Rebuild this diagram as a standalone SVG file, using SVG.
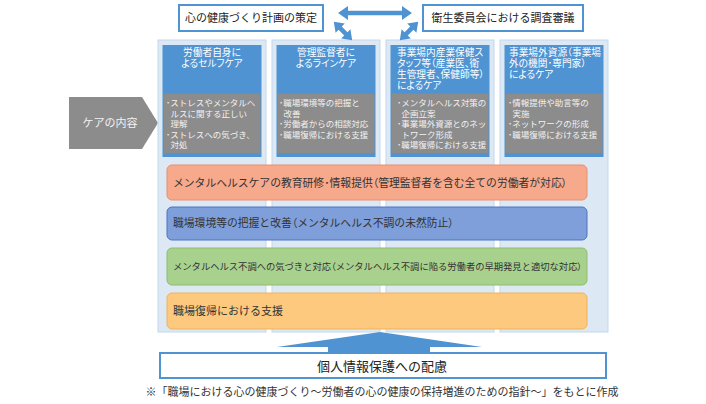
<svg xmlns="http://www.w3.org/2000/svg" width="706" height="404" viewBox="0 0 706 404">
<style>
text{font-family:"Liberation Sans","Noto Sans CJK JP",sans-serif;}
.col{fill:#dce9f5;stroke:#c3d8ec;stroke-width:1}
.hd{fill:#4f93d2}
.gr{fill:#8c8c8c}
.ht{fill:#ffffff;font-size:9.7px;font-feature-settings:"palt"}
.gt{fill:#f2f2f2;font-size:8.5px}
.top{fill:#ffffff;stroke:#4f93d2;stroke-width:2}
.tt{fill:#222222;font-size:11px;text-anchor:middle}
.bt{fill:#333333;font-size:10.8px}
.p{font-feature-settings:"palt"}
.arr{fill:#4f93d2}
</style>
<rect width="706" height="404" fill="#ffffff"/>

<g id="care-label">
<polygon points="69,97 142,97 158,123 142,149 69,149" fill="#8c8c8c"/>
<text x="110" y="127" fill="#f2f2f2" font-size="11" text-anchor="middle">ケアの内容</text>
</g>

<g id="col-self">
<rect class="col" x="158" y="40" width="108" height="292"/>
<rect class="hd" x="162.5" y="45" width="99" height="112"/>
<text class="ht" x="212" y="56.4" text-anchor="middle">労働者自身に</text>
<text class="ht" x="212" y="67.4" text-anchor="middle">よるセルフケア</text>
<rect class="gr" x="163.5" y="93.5" width="97" height="59.5"/>
<text class="gt" x="166" y="106">･ストレスやメンタルヘ</text>
<text class="gt" x="170.5" y="116.5">ルスに関する正しい</text>
<text class="gt" x="170.5" y="127">理解</text>
<text class="gt" x="166" y="137.5">･ストレスへの気づき、</text>
<text class="gt" x="170.5" y="148">対処</text>
</g>

<g id="col-line">
<rect class="col" x="272" y="40" width="108" height="292"/>
<rect class="hd" x="276.5" y="45" width="99" height="112"/>
<text class="ht" x="326" y="56.4" text-anchor="middle">管理監督者に</text>
<text class="ht" x="326" y="67.4" text-anchor="middle">よるラインケア</text>
<rect class="gr" x="277.5" y="93.5" width="97" height="59.5"/>
<text class="gt" x="279" y="106">･職場環境等の把握と</text>
<text class="gt" x="283.5" y="116.5">改善</text>
<text class="gt" x="279" y="127">･労働者からの相談対応</text>
<text class="gt" x="279" y="137.5">･職場復帰における支援</text>
</g>

<g id="col-staff">
<rect class="col" x="386" y="40" width="108" height="292"/>
<rect class="hd" x="390.5" y="45" width="99" height="112"/>
<text class="ht" x="397" y="56.4">事業場内産業保健ス</text>
<text class="ht" x="397" y="67.4">タッフ等（産業医、衛</text>
<text class="ht" x="397" y="78.4">生管理者、保健師等）</text>
<text class="ht" x="397" y="89.4">によるケア</text>
<rect class="gr" x="391.5" y="93.5" width="97" height="59.5"/>
<text class="gt" x="397" y="106">･メンタルヘルス対策の</text>
<text class="gt" x="401.5" y="116.5">企画立案</text>
<text class="gt" x="397" y="127">･事業場外資源とのネッ</text>
<text class="gt" x="401.5" y="137.5">トワーク形成</text>
<text class="gt" x="397" y="148">･職場復帰における支援</text>
</g>

<g id="col-external">
<rect class="col" x="500" y="40" width="108" height="292"/>
<rect class="hd" x="504.5" y="45" width="99" height="112"/>
<text class="ht" x="509" y="56.4">事業場外資源（事業場</text>
<text class="ht" x="509" y="67.4">外の機関･専門家）</text>
<text class="ht" x="509" y="78.4">によるケア</text>
<rect class="gr" x="505.5" y="93.5" width="97" height="59.5"/>
<text class="gt" x="508" y="106">･情報提供や助言等の</text>
<text class="gt" x="512.5" y="116.5">実施</text>
<text class="gt" x="508" y="127">･ネットワークの形成</text>
<text class="gt" x="508" y="137.5">･職場復帰における支援</text>
</g>

<g id="band-education">
<rect x="167" y="165" width="420" height="35" rx="5" fill="#f7a98c" stroke="#e88f6e" stroke-width="1"/>
<text class="bt" x="173" y="186.6">メンタルヘルスケアの教育研修･情報提供<tspan class="p">（</tspan>管理監督者を含む全ての労働者が対応<tspan class="p">）</tspan></text>
</g>
<g id="band-environment">
<rect x="167" y="207" width="420" height="33" rx="5" fill="#7f9fdb" stroke="#4f72c0" stroke-width="1"/>
<text class="bt" x="173" y="227.3">職場環境等の把握と改善<tspan class="p">（</tspan>メンタルヘルス不調の未然防止<tspan class="p">）</tspan></text>
</g>
<g id="band-awareness">
<rect x="167" y="248" width="420" height="37" rx="5" fill="#a9d18e" stroke="#8cbd6c" stroke-width="1"/>
<text class="bt" x="173" y="269.8" style="font-size:9.3px">メンタルヘルス不調への気づきと対応<tspan class="p">（</tspan>メンタルヘルス不調に陥る労働者の早期発見と適切な対応<tspan class="p">）</tspan></text>
</g>
<g id="band-return">
<rect x="167" y="293" width="420" height="36" rx="5" fill="#fcc97e" stroke="#f0b259" stroke-width="1"/>
<text class="bt" x="173" y="315" style="font-size:11px">職場復帰における支援</text>
</g>

<g id="plan">
<rect class="top" x="179" y="5" width="144" height="26"/>
<text class="tt" x="251" y="22">心の健康づくり計画の策定</text>
</g>
<g id="committee">
<rect class="top" x="423" y="5" width="160" height="26"/>
<text class="tt" x="503" y="22">衛生委員会における調査審議</text>
</g>

<g id="privacy">
<rect class="top" x="160" y="353" width="446" height="25"/>
<text x="382" y="370.7" fill="#222222" font-size="13" text-anchor="middle">個人情報保護への配慮</text>
</g>

<g id="connectors">
<polygon class="arr" points="338,13 348,6 348,10.7 402,10.7 402,6 412,13 402,20 402,15.3 348,15.3 348,20"/>
<path class="arr" transform="translate(343,31) rotate(45)" d="M-13,0 L-4,-6.5 L-4,-2.3 L4,-2.3 L4,-6.5 L13,0 L4,6.5 L4,2.3 L-4,2.3 L-4,6.5 Z"/>
<path class="arr" transform="translate(409,31) rotate(-45)" d="M-13,0 L-4,-6.5 L-4,-2.3 L4,-2.3 L4,-6.5 L13,0 L4,6.5 L4,2.3 L-4,2.3 L-4,6.5 Z"/>
<polygon class="arr" points="380,332 482,347 430,347 430,353 328,353 328,347 277,347"/>
</g>

<text x="382" y="396" fill="#333333" font-size="11" text-anchor="middle">※「職場における心の健康づくり～労働者の心の健康の保持増進のための指針～」をもとに作成</text>
</svg>
